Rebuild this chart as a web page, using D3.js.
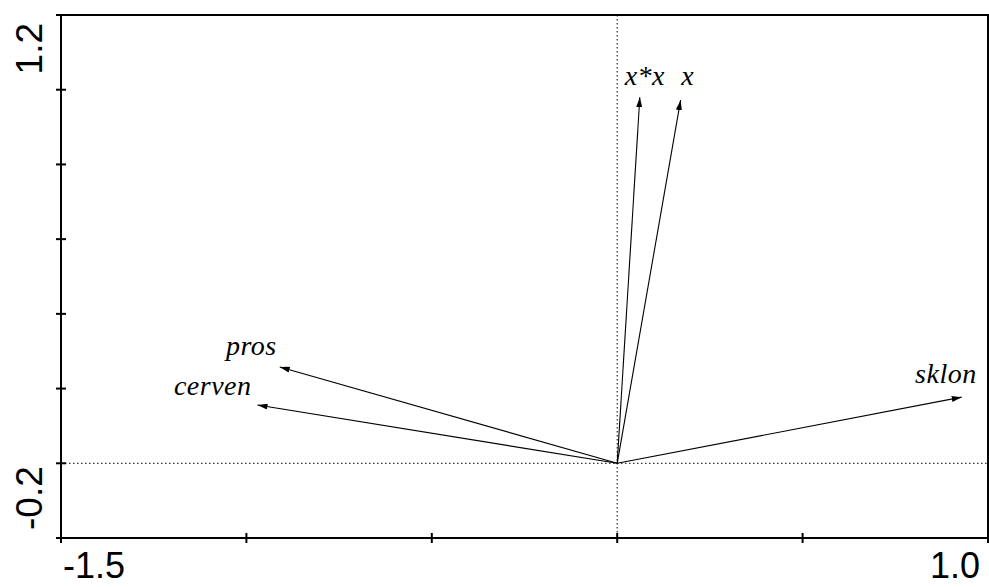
<!DOCTYPE html>
<html lang="en">
<head>
<meta charset="UTF-8">
<title>Biplot</title>
<script src="https://d3js.org/d3.v7.min.js"></script>
<style>
  body { margin: 0; background: #fff; }
  svg { display: block; }
  .axis-label { font-family: "Liberation Sans", Arial, sans-serif; font-size: 37px; fill: #000; }
  .axis-label.bottom { font-size: 36px; }
  .arrow-label { font-family: "Liberation Serif", "Times New Roman", serif; font-style: italic; font-size: 28px; letter-spacing: 0.5px; fill: #000; }
</style>
</head>
<body>
<svg width="989" height="587"></svg>
<script>
// variables (arrow tips in axis units)
const names = ["x*x", "x", "pros", "cerven", "sklon"];
const axis1 = [0.061, 0.171, -0.910, -0.970, 0.929];
const axis2 = [0.980, 0.972, 0.258, 0.156, 0.177];

const xTicks = [-1.5, -1.0, -0.5, 0, 0.5, 1.0];
const yTicks = [-0.2, 0, 0.2, 0.4, 0.6, 0.8, 1.0, 1.2];
const xEndLabels = ["-1.5", "1.0"];
const yEndLabels = ["-0.2", "1.2"];

// label nudges relative to arrow tip (px)
const nudge = {
  "x*x":  { dx: 5,  dy: -12, anchor: "middle" },
  "x":    { dx: 7,  dy: -15, anchor: "middle" },
  "pros": { dx: -3, dy: -12, anchor: "end" },
  "cerven": { dx: -6, dy: -10, anchor: "end" },
  "sklon": { dx: 15, dy: -14, anchor: "end" }
};

const plotL = 61, plotR = 988, plotT = 15, plotB = 538;

const svg = d3.select("svg");

const x = d3.scaleLinear().domain([-1.5, 1.0]).range([plotL, plotR]);
const y = d3.scaleLinear().domain([-0.2, 1.2]).range([plotB, plotT]);

svg.append("defs").append("marker")
  .attr("id", "head")
  .attr("viewBox", "0 0 10 6")
  .attr("refX", 10).attr("refY", 3)
  .attr("markerWidth", 10).attr("markerHeight", 6)
  .attr("markerUnits", "userSpaceOnUse")
  .attr("orient", "auto")
  .append("path")
  .attr("d", "M0,0 L10,3 L0,6 Z")
  .attr("fill", "#000");

// origin dotted lines
svg.append("line")
  .attr("x1", x(0)).attr("x2", x(0))
  .attr("y1", plotT).attr("y2", plotB)
  .attr("stroke", "#000").attr("stroke-width", 1)
  .attr("stroke-dasharray", "1.5,2.5");
svg.append("line")
  .attr("x1", plotL).attr("x2", plotR)
  .attr("y1", y(0)).attr("y2", y(0))
  .attr("stroke", "#000").attr("stroke-width", 1)
  .attr("stroke-dasharray", "1.5,2.5");

// frame
svg.append("rect")
  .attr("x", plotL).attr("y", plotT)
  .attr("width", plotR - plotL).attr("height", plotB - plotT)
  .attr("fill", "none").attr("stroke", "#000").attr("stroke-width", 2);

// tick crosses
svg.append("g").selectAll("line")
  .data(xTicks).enter().append("line")
  .attr("x1", d => x(d)).attr("x2", d => x(d))
  .attr("y1", plotB - 5).attr("y2", plotB + 5)
  .attr("stroke", "#000").attr("stroke-width", 2);

svg.append("g").selectAll("line")
  .data(yTicks).enter().append("line")
  .attr("x1", plotL - 5).attr("x2", plotL + 5)
  .attr("y1", d => y(d)).attr("y2", d => y(d))
  .attr("stroke", "#000").attr("stroke-width", 2);

// end labels
svg.append("text").attr("class", "axis-label bottom")
  .attr("x", plotL + 2).attr("y", 578)
  .attr("text-anchor", "start").text(xEndLabels[0]);
svg.append("text").attr("class", "axis-label bottom")
  .attr("x", plotR - 8).attr("y", 578)
  .attr("text-anchor", "end").text(xEndLabels[1]);

svg.append("text").attr("class", "axis-label")
  .attr("transform", `translate(42,${plotB - 8}) rotate(-90)`)
  .attr("text-anchor", "start").text(yEndLabels[0]);
svg.append("text").attr("class", "axis-label")
  .attr("transform", `translate(42,${plotT + 8}) rotate(-90)`)
  .attr("text-anchor", "end").text(yEndLabels[1]);

// arrows
const data = names.map((n, i) => ({ name: n, a1: axis1[i], a2: axis2[i] }));

svg.append("g").selectAll("line")
  .data(data).enter().append("line")
  .attr("x1", x(0)).attr("y1", y(0))
  .attr("x2", d => x(d.a1)).attr("y2", d => y(d.a2))
  .attr("stroke", "#000").attr("stroke-width", 1.1)
  .attr("marker-end", "url(#head)");

svg.append("g").selectAll("text")
  .data(data).enter().append("text")
  .attr("class", "arrow-label")
  .attr("x", d => x(d.a1) + nudge[d.name].dx)
  .attr("y", d => y(d.a2) + nudge[d.name].dy)
  .attr("text-anchor", d => nudge[d.name].anchor)
  .text(d => d.name);
</script>
</body>
</html>
